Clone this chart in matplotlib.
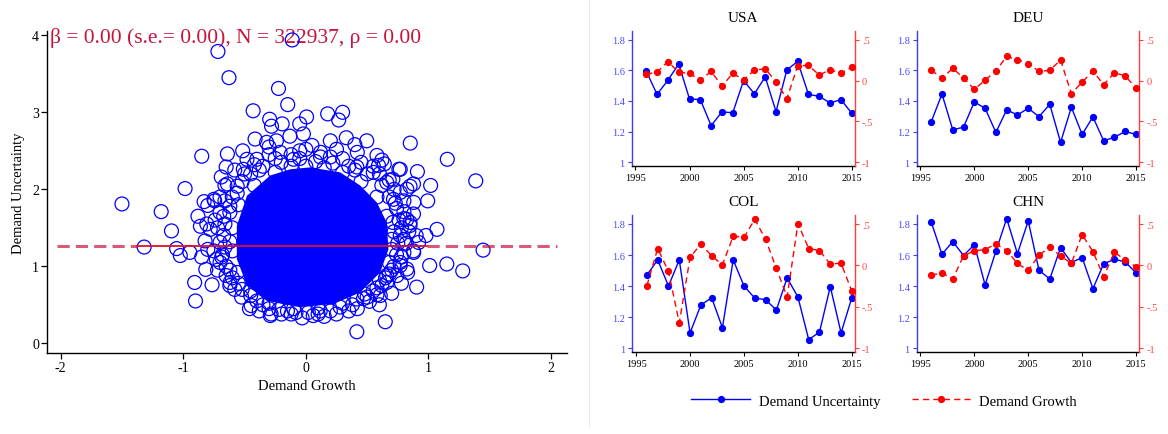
import matplotlib.pyplot as plt
from matplotlib.lines import Line2D

plt.rcParams["font.family"] = ["Liberation Serif", "DejaVu Serif"]
plt.rcParams["axes.unicode_minus"] = False

# pooled scatter: individual circles (sparse region) and outline of the saturated core
growth = [
    -0.717, -0.111, -0.627, -0.223, -0.148, -0.43, 0.178, 0.30, 0.268, 0.006,
    -0.295, -0.28, -0.193, -0.05, 0.852, 1.154, 1.386, 0.91, 1.018, 0.994,
    0.759, -0.849, -0.985, -1.5, -1.18, -1.096, -1.319, -1.054, -1.024, -0.946,
    1.446, 1.01, 1.15, 1.28, 0.904, 1.07, 0.98, 0.92, 0.648, 0.416,
    -0.907, -0.9, -0.765, -0.816, -0.83, -0.744, -0.88, -0.86, -0.85, -0.03,
    -0.283, -0.199, -0.446, -0.524, 0.58, 0.52,
    -0.414, -0.32, -0.24, -0.13, -0.02, 0.05, 0.2, 0.33, 0.497, -0.515,
    -0.64, -0.65, -0.69, -0.64, -0.75, -0.80, -0.40, -0.21, -0.10, 0.12,
    0.25, 0.42, 0.58, 0.64, 0.77, 0.55, 0.71, 0.85, 0.77, 0.88,
    0.80, 0.71, 0.85, 0.77, 0.90, 0.80, 0.88, 0.77, 0.83, 0.66,
    0.42, 0.28, 0.06, -0.29, -0.46, -0.62, -0.65, -0.73, -0.80, -0.70,
    -0.78, -0.67, -0.62, -0.56, -0.51, -0.48, -0.66, 0.878, 0.824, 0.416,
    0.593, 0.66, 0.715, 0.878, 0.824, 0.85, 0.878, 0.824, 0.77, 0.743,
    0.66, 0.607, 0.416, 0.117, -0.808, -0.822, -0.686, -0.618,
    0.0, 0.15, 0.3, 0.45, 0.58, 0.66, 0.7, 0.68, 0.6, 0.48,
    0.3, 0.1, -0.1, -0.3, -0.45, -0.56, -0.6, -0.6, -0.55, -0.42,
    -0.25, -0.12,
    -0.35, -0.2, -0.05, 0.08, 0.22, 0.35, 0.5, -0.45, 0.62, 0.68,
    0.74, 0.76, 0.78, 0.75, 0.74, 0.72, 0.68, 0.62, 0.55, 0.47,
    0.38, 0.2, 0.02, -0.15, -0.3, -0.4, -0.52, -0.6, -0.65, -0.68,
    -0.66, -0.67, -0.66, -0.62, -0.6, -0.52, -0.38,
    -0.3, -0.05, 0.2, 0.45, 0.6, 0.72, 0.8, 0.84, 0.82, 0.78,
    0.7, 0.6, 0.15, -0.12, -0.38, -0.58, -0.72, -0.75, -0.74, -0.7,
    -0.58, -0.3, 0.4,
    0.68, 0.73, 0.8, 0.72, 0.8, 0.7, 0.78, 0.7, 0.65, 0.58,
    0.5, 0.35, 0.25, 0.1, -0.08, -0.22, -0.35, -0.45, -0.55, -0.62,
    -0.7, -0.62, -0.72, -0.7, -0.66, -0.56, -0.5, -0.42, -0.25, -0.12,
    0.0, 0.12, 0.3, 0.4, 0.55, 0.62,
]
uncertainty = [
    3.79, 3.94, 3.45, 3.31, 3.10, 3.02, 2.98, 3.00, 2.90, 2.94,
    2.91, 2.82, 2.85, 2.85, 2.60, 2.39, 2.11, 2.23, 2.05, 1.85,
    2.26, 2.43, 2.01, 1.81, 1.71, 1.46, 1.25, 1.23, 1.14, 1.18,
    1.21, 1.01, 1.03, 0.94, 0.73, 1.48, 1.40, 1.31, 0.28, 0.15,
    0.79, 0.55, 0.76, 0.96, 1.84, 1.85, 1.65, 1.52, 1.12, 0.33,
    0.38, 0.38, 0.49, 0.60, 0.63, 0.545,
    2.653, 2.61, 2.63, 2.69, 2.72, 2.57, 2.63, 2.67, 2.63, 2.50,
    2.46, 2.29, 2.16, 2.07, 1.87, 1.79, 2.39, 2.48, 2.39, 2.48,
    2.52, 2.48, 2.44, 2.33, 2.26, 2.22, 2.13, 2.04, 1.96, 1.83,
    1.71, 1.57, 1.57, 1.40, 1.40, 1.18, 1.18, 1.01, 0.92, 0.79,
    0.45, 0.47, 0.36, 0.36, 0.45, 0.75, 0.88, 1.09, 1.22, 1.31,
    1.48, 1.65, 1.78, 2.04, 2.26, 2.39, 2.05, 2.07, 2.0, 2.29,
    2.31, 2.09, 1.87, 1.68, 1.61, 1.53, 1.20, 0.965, 1.05, 0.88,
    0.88, 0.62, 0.575, 0.42, 1.55, 1.33, 1.12, 0.79,
    2.3, 2.28, 2.22, 2.1, 1.9, 1.65, 1.35, 1.05, 0.82, 0.64,
    0.52, 0.46, 0.45, 0.52, 0.68, 0.92, 1.2, 1.5, 1.8, 2.05,
    2.22, 2.3,
    2.3, 2.35, 2.4, 2.36, 2.34, 2.3, 2.2, 2.2, 2.05, 1.9,
    1.75, 1.6, 1.5, 1.3, 1.15, 1.0, 0.9, 0.75, 0.68, 0.58,
    0.5, 0.42, 0.4, 0.42, 0.45, 0.55, 0.7, 0.85, 1.0, 1.15,
    1.25, 1.4, 1.55, 1.7, 1.9, 2.1, 2.25,
    2.45, 2.5, 2.42, 2.35, 2.2, 2.0, 1.85, 1.45, 1.3, 0.78,
    0.65, 0.5, 0.35, 0.38, 0.42, 0.7, 0.95, 1.2, 1.6, 1.9,
    2.25, 2.55, 2.58,
    2.12, 1.82, 1.62, 1.45, 1.35, 1.22, 1.12, 0.95, 0.85, 0.72,
    0.6, 0.42, 0.38, 0.38, 0.4, 0.44, 0.5, 0.62, 0.78, 0.95,
    1.05, 1.32, 1.5, 1.7, 1.85, 1.95, 2.2, 2.32, 2.4, 2.45,
    2.52, 2.42, 2.4, 2.25, 2.3, 2.38,
]
core_growth = [0.035, 0.28, 0.443, 0.579, 0.66, 0.674, 0.606, 0.443, 0.225, -0.047,
               -0.32, -0.48, -0.563, -0.563, -0.48, -0.29, -0.127]
core_uncertainty = [2.285, 2.22, 2.05, 1.83, 1.57, 1.22, 0.92, 0.66, 0.51, 0.47,
                    0.553, 0.75, 1.095, 1.527, 1.917, 2.18, 2.26]

fit_level = 1.27
fit_span = (-2.03, 2.05)
fit_solid_span = (-1.38, 0.99)
beta, se, n_obs, rho = 0.00, 0.00, 322937, 0.00

# country panels
years = list(range(1996, 2016))
countries = ["USA", "DEU", "COL", "CHN"]
unc_usa = [1.594, 1.443, 1.535, 1.641, 1.413, 1.409, 1.239, 1.329, 1.323, 1.533,
           1.447, 1.557, 1.331, 1.602, 1.658, 1.443, 1.430, 1.387, 1.409, 1.320]
gro_usa = [0.076, 0.104, 0.232, 0.10, 0.088, 0.004, 0.112, -0.068, 0.088, 0.008,
           0.128, 0.144, -0.016, -0.224, 0.18, 0.184, 0.068, 0.132, 0.092, 0.16]
unc_deu = [1.264, 1.445, 1.212, 1.229, 1.394, 1.352, 1.195, 1.342, 1.309, 1.352,
           1.298, 1.378, 1.13, 1.359, 1.182, 1.296, 1.14, 1.164, 1.201, 1.182]
gro_deu = [0.128, 0.028, 0.148, 0.032, -0.108, 0.004, 0.116, 0.296, 0.256, 0.208,
           0.112, 0.124, 0.252, -0.16, -0.02, 0.116, -0.052, 0.096, 0.056, -0.092]
unc_col = [1.472, 1.569, 1.401, 1.569, 1.099, 1.278, 1.326, 1.132, 1.569, 1.401,
           1.323, 1.313, 1.246, 1.453, 1.330, 1.056, 1.104, 1.397, 1.099, 1.326]
gro_col = [-0.244, 0.204, -0.072, -0.692, 0.096, 0.26, 0.116, 0.008, 0.352, 0.34,
           0.556, 0.316, -0.036, -0.38, 0.504, 0.204, 0.18, 0.016, 0.028, -0.312]
unc_chn = [1.813, 1.605, 1.687, 1.597, 1.667, 1.408, 1.624, 1.835, 1.609, 1.820,
           1.502, 1.446, 1.648, 1.552, 1.584, 1.384, 1.543, 1.573, 1.556, 1.485]
gro_chn = [-0.12, -0.088, -0.164, 0.116, 0.176, 0.192, 0.26, 0.18, 0.024, -0.06,
           0.124, 0.22, 0.116, 0.024, 0.372, 0.168, -0.136, 0.16, 0.064, -0.016]

unc_ticks = [1, 1.2, 1.4, 1.6, 1.8]
unc_tick_labels = ["1", "1.2", "1.4", "1.6", "1.8"]
gro_ticks = [-1, -0.5, 0, 0.5]
gro_tick_labels = ["-1", "-.5", "0", ".5"]
year_ticks = [1995, 2000, 2005, 2010, 2015]

BLUE = "#0000FF"
RED = "#FF0000"
CRANBERRY = "#C8143C"
AXIS_BLUE = "#3C3CFF"
AXIS_RED = "#FF3C3C"
DASHES = (4.5, 3)


def plot_scatter(fig):
    ax = fig.add_axes([0.0405, 0.1862, 0.4449, 0.7402])
    ax.fill(core_growth, core_uncertainty, color=BLUE, lw=0, zorder=2)
    ax.scatter(growth, uncertainty, s=100, facecolors="none", edgecolors=BLUE,
               linewidths=0.9, zorder=3)
    # dashed fit outside the data span, solid fit through it
    lo, hi = fit_span
    s_lo, s_hi = fit_solid_span
    for x0, x1 in ((lo, s_lo), (s_hi, hi)):
        ax.plot([x0, x1], [fit_level, fit_level], color=CRANBERRY, lw=2.2,
                alpha=0.7, dashes=(4, 2), zorder=4)
    ax.plot([s_lo, s_hi], [fit_level, fit_level], color="#E0102A", lw=1.3, zorder=5)
    ax.text(-2.087, 3.91, f"β = {beta:.2f} (s.e.= {se:.2f}), N = {n_obs}, ρ = {rho:.2f}",
            color=CRANBERRY, fontsize=15.5, va="baseline", ha="left", zorder=1)
    ax.set_xlim(-2.109, 2.13)
    ax.set_ylim(-0.126, 4.056)
    ax.set_xticks([-2, -1, 0, 1, 2])
    ax.set_yticks([0, 1, 2, 3, 4])
    ax.set_xlabel("Demand Growth", fontsize=10.5, labelpad=3)
    ax.set_ylabel("Demand Uncertainty", fontsize=10.5, labelpad=5)
    for side in ("top", "right"):
        ax.spines[side].set_visible(False)
    for side in ("left", "bottom"):
        ax.spines[side].set_linewidth(1.0)
    ax.tick_params(direction="out", length=4, width=0.9, labelsize=10, pad=2)


def plot_country(fig, rect, name, unc, gro):
    ax = fig.add_axes(rect)
    ax2 = ax.twinx()
    ax.plot(years, unc, color=BLUE, lw=1.0, marker="o", ms=4.2, zorder=3)
    ax2.plot(years, gro, color=RED, lw=1.0, dashes=DASHES, marker="o", ms=4.2, zorder=3)
    ax.set_xlim(1994.65, 2015.3)
    ax.set_ylim(0.978, 1.858)
    ax2.set_ylim(-1.041, 0.609)
    ax.set_xticks(year_ticks)
    ax.set_yticks(unc_ticks)
    ax.set_yticklabels(unc_tick_labels)
    ax2.set_yticks(gro_ticks)
    ax2.set_yticklabels(gro_tick_labels)
    ax.set_title(name, fontsize=11, pad=7)

    ax.spines["top"].set_visible(False)
    ax.spines["right"].set_visible(False)
    ax.spines["left"].set_color(AXIS_BLUE)
    ax.spines["left"].set_linewidth(1.0)
    ax.spines["bottom"].set_linewidth(1.0)
    for side in ("top", "left", "bottom"):
        ax2.spines[side].set_visible(False)
    ax2.spines["right"].set_color(AXIS_RED)
    ax2.spines["right"].set_linewidth(1.0)

    ax.tick_params(axis="x", direction="out", length=3, width=0.8, labelsize=7.5, pad=2)
    ax.tick_params(axis="y", direction="out", length=3, width=0.8, labelsize=7.5, pad=2,
                   color=AXIS_BLUE, labelcolor="#4A4AFF")
    ax2.tick_params(axis="y", direction="out", length=3, width=0.8, labelsize=7.5, pad=2,
                    color=AXIS_RED, labelcolor="#FF4545")


def main():
    fig = plt.figure(figsize=(11.68, 4.35), dpi=100)
    plot_scatter(fig)

    rects = [
        [0.5408, 0.6168, 0.1912, 0.3103],
        [0.7848, 0.6168, 0.1906, 0.3103],
        [0.5414, 0.1892, 0.1907, 0.3143],
        [0.7848, 0.1892, 0.1906, 0.3143],
    ]
    series = [(unc_usa, gro_usa), (unc_deu, gro_deu), (unc_col, gro_col), (unc_chn, gro_chn)]
    for rect, name, (unc, gro) in zip(rects, countries, series):
        plot_country(fig, rect, name, unc, gro)

    # thin divider between the pooled scatter and the country panels
    fig.add_artist(Line2D([0.5043, 0.5043], [0.018, 1.0], color="#EBEBEB", lw=0.8))

    handles = [
        Line2D([], [], color=BLUE, lw=1.0, marker="o", ms=4.2),
        Line2D([], [], color=RED, lw=1.0, dashes=DASHES, marker="o", ms=4.2),
    ]
    fig.legend(handles, ["Demand Uncertainty", "Demand Growth"], loc="center",
               bbox_to_anchor=(0.757, 0.076), ncol=2, frameon=False, fontsize=10.5,
               handlelength=4.0, columnspacing=2.2, handletextpad=0.6)

    fig.savefig("out.png", dpi=100)
    plt.close(fig)


if __name__ == "__main__":
    main()
